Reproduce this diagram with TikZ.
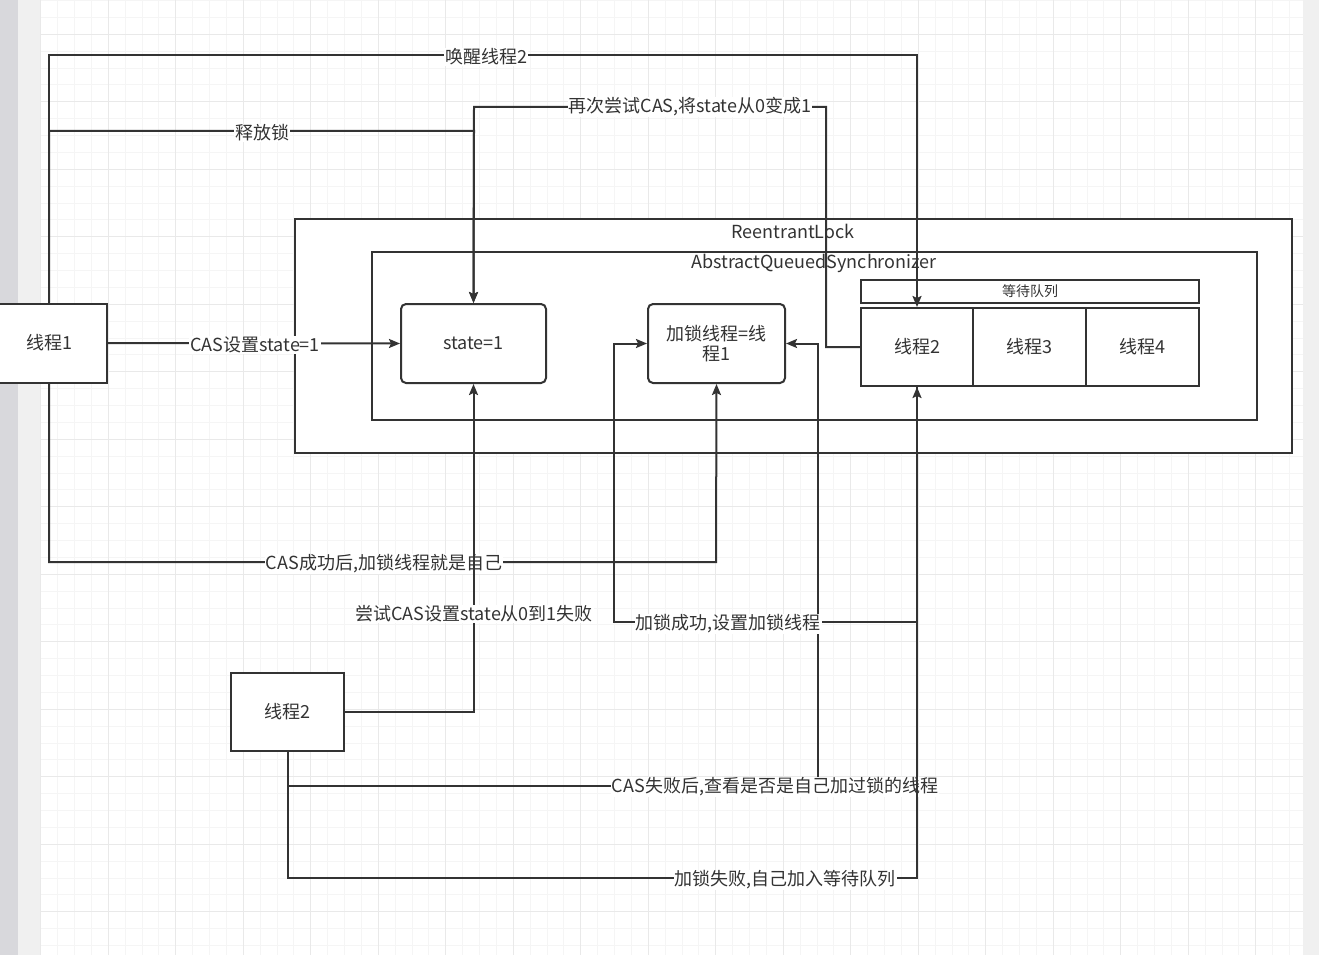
\documentclass[tikz,border=0pt]{standalone}
\usepackage{fontspec}
\setmainfont{Noto Sans CJK SC}
\usetikzlibrary{arrows.meta}
\definecolor{lc}{HTML}{333333}
\definecolor{tc}{HTML}{333333}
\definecolor{gmin}{HTML}{F5F5F5}
\definecolor{gmaj}{HTML}{E9E9E9}
\definecolor{side}{HTML}{F0F0F0}
\definecolor{strip}{HTML}{D8D8DC}
\newcommand\fsz[1]{\fontsize{#1}{#1}\selectfont}
\tikzset{
  box/.style={draw=lc, line width=2pt, fill=white, text=tc, font=\fsz{18}, inner sep=0pt, align=center},
  rbox/.style={box, rounded corners=5pt},
  lbl/.style={fill=white, text=tc, font=\fsz{18}, inner sep=1pt},
  edge/.style={draw=lc, line width=2pt},
  arr/.style={edge, -{Stealth[length=11pt,width=9pt,inset=2pt]}},
}
\begin{document}
\begin{tikzpicture}[x=1pt,y=-1pt]
\useasboundingbox (0,0) rectangle (1319,955);
% background
\fill[white] (0,0) rectangle (1319,955);
\fill[strip] (0,0) rectangle (18,955);
\fill[side] (18,0) rectangle (41,955);
\fill[side] (1303,0) rectangle (1319,955);
\foreach \i in {0,...,74} {
  \pgfmathsetmacro\gx{40.8+\i*16.875}
  \draw[gmin, line width=0.9pt] (\gx,0) -- (\gx,955);
}
\foreach \k in {0,...,56} {
  \pgfmathsetmacro\gy{0.55+\k*16.875}
  \draw[gmin, line width=0.9pt] (41,\gy) -- (1303,\gy);
}
\foreach \i in {0,4,...,72} {
  \pgfmathsetmacro\gx{40.8+\i*16.875}
  \draw[gmaj, line width=0.9pt] (\gx,0) -- (\gx,955);
}
\foreach \k in {2,6,...,54} {
  \pgfmathsetmacro\gy{0.55+\k*16.875}
  \draw[gmaj, line width=0.9pt] (41,\gy) -- (1303,\gy);
}
% containers
\draw[edge, fill=white] (295,219) rectangle (1292,453);
\node[text=tc, font=\fsz{18}] (rl) at (793,231) {ReentrantLock};
\draw[edge, fill=white] (372,252) rectangle (1257,420);
\node[text=tc, font=\fsz{18}] (aqs) at (814,263) {AbstractQueuedSynchronizer};
% nodes
\node[box, minimum width=115pt, minimum height=79pt] (t1) at (49,343) {线程1};
\node[rbox, minimum width=145pt, minimum height=79pt] (st) at (473.5,343.5) {state=1};
\node[rbox, minimum width=137pt, minimum height=79pt] (lk) at (716.5,343.5) {加锁线程=线\\[2pt]程1};
\node[box, font=\fsz{14}, minimum width=338pt, minimum height=23pt] (wq) at (1030,291.5) {等待队列};
\node[box, minimum width=112pt, minimum height=78pt] (q2) at (917,347) {线程2};
\node[box, minimum width=113pt, minimum height=78pt] (q3) at (1029.5,347) {线程3};
\node[box, minimum width=113pt, minimum height=78pt] (q4) at (1142.5,347) {线程4};
\node[box, minimum width=113pt, minimum height=78pt] (t2) at (287.5,712) {线程2};
% coordinates
\coordinate (c1) at (917,55);
\coordinate (c2) at (474,131);
\coordinate (c4) at (716,562);
\coordinate (c5a) at (826,347);
\coordinate (c5b) at (474,107);
\coordinate (c7) at (818,786);
\coordinate (c8) at (917,878);
\coordinate (c9) at (614,622);
% edges
\draw[arr] (t1.north) |- (c1) -- (q2.north);
\node[lbl] (l1) at (486,57) {唤醒线程2};
\draw[arr] (t1.north) |- (c2) -- (st.north);
\node[lbl] (l2) at (262,133) {释放锁};
\draw[arr] (t1.east) -- (st.west);
\node[lbl] (l3) at (255,345) {CAS设置state=1};
\draw[arr] (t1.south) |- (c4) -- (lk.south);
\node[lbl] (l4) at (384,564) {CAS成功后,加锁线程就是自己};
\draw[arr] (q2.west) -- (c5a) |- (c5b) -- (st.north);
\node[lbl] (l5) at (690,107) {再次尝试CAS,将state从0变成1};
\draw[arr] (t2.east) -| (st.south);
\node[lbl] (l6) at (474,614) {尝试CAS设置state从0到1失败};
\draw[arr] (t2.south) |- (c7) |- (lk.east);
\node[lbl] (l7) at (775,787) {CAS失败后,查看是否是自己加过锁的线程};
\draw[arr] (t2.south) |- (c8) -- (q2.south);
\node[lbl] (l8) at (785,880) {加锁失败,自己加入等待队列};
\draw[arr] (q2.south) |- (c9) |- (lk.west);
\node[lbl] (l9) at (728,624) {加锁成功,设置加锁线程};
\end{tikzpicture}
\end{document}
